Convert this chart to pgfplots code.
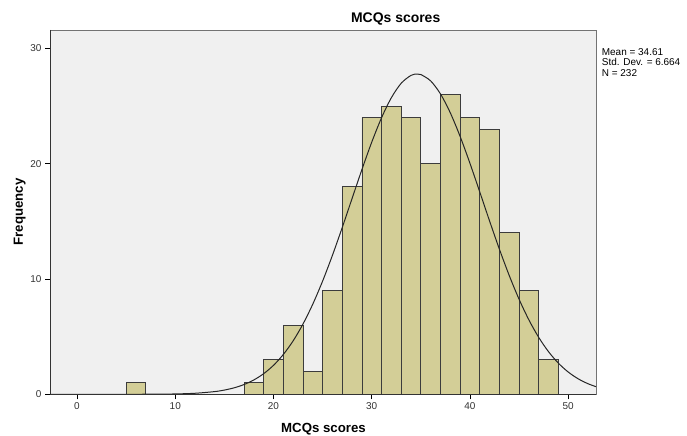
\documentclass[border=0pt]{standalone}
\usepackage{pgfplots}
\pgfplotsset{compat=1.18}
\usepackage{fontspec}
\setmainfont{Liberation Sans}
\definecolor{barfill}{RGB}{211,206,151}
\definecolor{barline}{RGB}{60,60,60}
\definecolor{bg}{RGB}{240,240,240}
\begin{document}
\begin{tikzpicture}[x=1bp,y=1bp]
\useasboundingbox (0,0) rectangle (687,436);
\begin{axis}[
  at={(50bp,41.7bp)}, anchor=south west,
  scale only axis, width=546bp, height=364.3bp,
  xmin=-2.75, xmax=52.83, ymin=0, ymax=31.6,
  axis background/.style={fill=bg},
  axis line style={draw=black!55, line width=0.8bp},
  xtick={0,10,20,30,40,50}, ytick={0,10,20,30},
  tick align=outside, tick pos=left,
  major tick length=5bp,
  tick style={black, line width=0.8bp},
  tick label style={font=\fontsize{10}{12}\selectfont, text=black!80},
  /pgf/number format/assume math mode=true,
  clip=false,
]
\addplot[ybar, bar width=2, fill=barfill, draw=barline, line width=0.8bp]
  coordinates {(6,1) (18,1) (20,3) (22,6) (24,2) (26,9) (28,18) (30,24) (32,25)
  (34,24) (36,20) (38,26) (40,24) (42,23) (44,14) (46,9) (48,3)};
\addplot[smooth, black!85, line width=1bp, no marks] coordinates {
(-2.75,0) (5,0.001) (8,0.0096) (10,0.0304) (12,0.0879) (14,0.2328) (15,0.366)
(16,0.563) (17,0.846) (18,1.244) (19,1.788) (20,2.512) (21,3.452) (22,4.637)
(23,6.091) (24,7.822) (25,9.821) (26,12.058) (27,14.473) (28,16.987) (29,19.493)
(30,21.868) (31,23.989) (32,25.729) (33,26.981) (34,27.664) (34.61,27.78)
(35,27.733) (36,27.182) (37,26.050) (38,24.409) (39,22.362) (40,20.030)
(41,17.542) (42,15.021) (43,12.575) (44,10.295) (45,8.240) (46,6.448)
(47,4.933) (48,3.690) (49,2.700) (50,1.931) (51,1.350) (52,0.9226) (52.83,0.66)};
\draw[black!80, line width=0.9bp] (rel axis cs:0,1) -- (rel axis cs:0,0) -- (rel axis cs:1,0);
\end{axis}
\node[anchor=base, font=\bfseries\fontsize{14}{16}\selectfont] at (395.7,413) {MCQs scores};
\node[anchor=base, font=\bfseries\fontsize{13.3}{15}\selectfont] at (323.5,3) {MCQs scores};
\node[anchor=base, rotate=90, font=\bfseries\fontsize{13.3}{15}\selectfont] at (22.8,224) {Frequency};
\node[anchor=base west, inner sep=0, font=\fontsize{10}{12}\selectfont] at (601.7,380.3) {Mean = 34.61};
\node[anchor=base west, inner sep=0, font=\fontsize{10}{12}\selectfont] at (601.7,370) {Std. Dev. = 6.664};
\node[anchor=base west, inner sep=0, font=\fontsize{10}{12}\selectfont] at (601.7,359.5) {N = 232};
\end{tikzpicture}
\end{document}
